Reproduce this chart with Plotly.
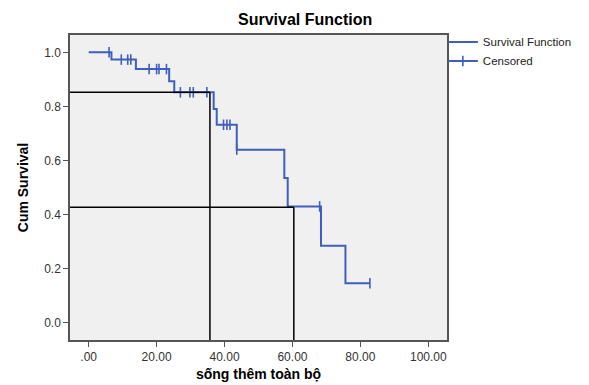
import plotly.graph_objects as go

# Kaplan-Meier step curve (event times and survival levels)
event_times = [0, 6.7, 13.9, 23.7, 25.2, 36.8, 37.7, 43.6, 57.6, 58.6, 68.4, 75.6, 82.8]
survival = [1.0, 0.973, 0.938, 0.893, 0.852, 0.79, 0.732, 0.64, 0.535, 0.43, 0.285, 0.146, 0.146]

# Censored observations
censor_times = [6.0, 9.6, 11.5, 12.4, 17.8, 20.0, 20.7, 22.9, 27.0, 29.8, 30.8, 34.8,
                39.7, 40.7, 41.6, 43.6, 68.0, 82.8]
censor_surv = [1.0, 0.973, 0.973, 0.973, 0.938, 0.938, 0.938, 0.938, 0.852, 0.852, 0.852, 0.852,
               0.732, 0.732, 0.732, 0.64, 0.43, 0.146]

# Reference lines (median-type read-offs)
ref_x = [35.7, 60.4]
ref_y = [0.852, 0.427]

x_ticks = [0, 20, 40, 60, 80, 100]
x_tick_labels = [".00", "20.00", "40.00", "60.00", "80.00", "100.00"]
y_ticks = [0.0, 0.2, 0.4, 0.6, 0.8, 1.0]
y_tick_labels = ["0.0", "0.2", "0.4", "0.6", "0.8", "1.0"]

x_range = [-5.5, 105.5]
y_range = [-0.064, 1.064]

blue = "#3f5fbd"

fig = go.Figure()
fig.add_trace(go.Scatter(x=event_times, y=survival, mode="lines", line_shape="hv",
                         line=dict(color=blue, width=2), name="Survival Function"))

cx, cy = [], []
for t, s in zip(censor_times, censor_surv):
    cx += [t, None]
    cy += [s, None]
fig.add_trace(go.Scatter(x=cx, y=cy, mode="lines+markers", connectgaps=False,
                         line=dict(color=blue, width=2),
                         marker=dict(symbol="line-ns-open", size=7.5, color=blue,
                                     line=dict(color=blue, width=1.6)),
                         name="Censored"))

for rx, ry in zip(ref_x, ref_y):
    fig.add_shape(type="line", x0=x_range[0], x1=rx, y0=ry, y1=ry,
                  line=dict(color="black", width=1.5), layer="above")
    fig.add_shape(type="line", x0=rx, x1=rx, y0=ry, y1=y_range[0],
                  line=dict(color="black", width=1.5), layer="above")

fig.add_annotation(text="<b>Survival Function</b>", xref="paper", yref="paper",
                   x=0.623, y=1.0, yshift=5, xanchor="center", yanchor="bottom",
                   showarrow=False, font=dict(size=16, color="black", family="Liberation Sans"))

# page body has an 8px margin, so the figure is shrunk by that amount
fig.update_layout(
    width=581, height=377,
    margin=dict(l=62, r=142, t=27, b=45, autoexpand=False),
    paper_bgcolor="white", plot_bgcolor="#f0f0f0",
    font=dict(family="Liberation Sans", color="#333333", size=12),
    legend=dict(x=0.989, y=1.025, xanchor="left", yanchor="top", bgcolor="rgba(0,0,0,0)",
                font=dict(size=11.5, color="#222222"), tracegroupgap=0,
                itemwidth=30),
    xaxis=dict(range=x_range, tickmode="array", tickvals=x_ticks, ticktext=x_tick_labels,
               showgrid=False, zeroline=False, showline=True, mirror=True, automargin=False,
               linecolor="#555555", linewidth=1.5, ticks="outside", ticklen=5,
               tickcolor="#555555",
               title=dict(text="<b>sống thêm toàn bộ</b>", font=dict(size=14, color="black"),
                          standoff=6)),
    yaxis=dict(range=y_range, tickmode="array", tickvals=y_ticks, ticktext=y_tick_labels,
               showgrid=False, zeroline=False, showline=True, mirror=True, automargin=False,
               linecolor="#555555", linewidth=1.5, ticks="outside", ticklen=5,
               tickcolor="#555555",
               title=dict(text="<b>Cum Survival</b>", font=dict(size=14, color="black"),
                          standoff=12)),
)

fig.write_html("out.html")
